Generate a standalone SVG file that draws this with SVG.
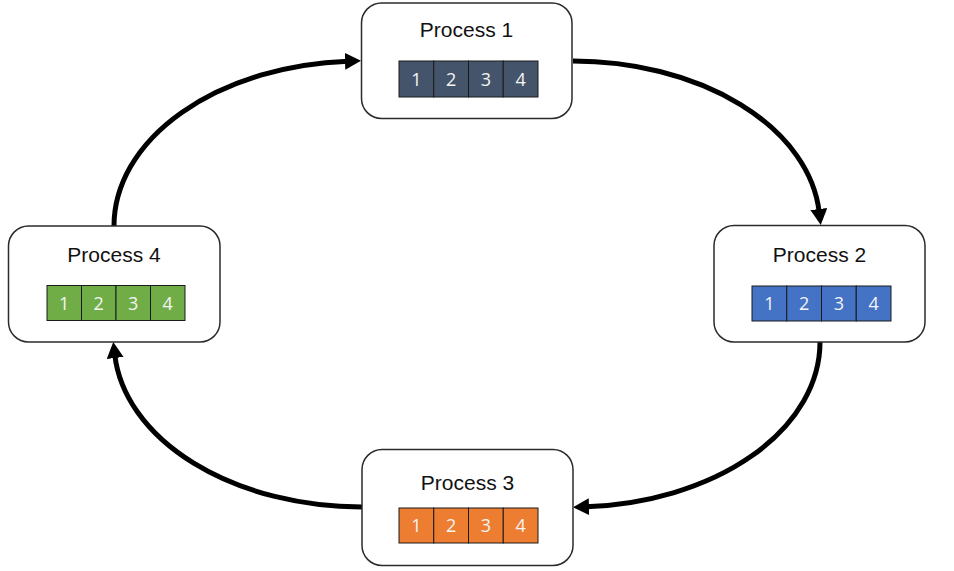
<svg xmlns="http://www.w3.org/2000/svg" width="954" height="571" viewBox="0 0 954 571">
<style>
.box{fill:#fff;stroke:#2b2b2b;stroke-width:1.5}
.title{font-family:"Liberation Sans",Arial,sans-serif;font-size:21px;fill:#111;text-anchor:middle}
.cell{stroke:#1a1a1a;stroke-width:1}
.num{font-family:"Open Sans","Liberation Sans",sans-serif;font-size:18px;fill:#f4f4f4;text-anchor:middle}
.c1{fill:#44546A}.c2{fill:#4472C4}.c3{fill:#ED7D31}.c4{fill:#70AD47}
.conn{fill:none;stroke:#000;stroke-width:5;marker-end:url(#ah)}
</style>
<defs>
<marker id="ah" markerUnits="userSpaceOnUse" markerWidth="16" markerHeight="17" refX="3" refY="8.5" orient="auto">
<path d="M0,0 L16,8.5 L0,17 z" fill="#000"/>
</marker>
</defs>
<rect width="954" height="571" fill="#fff"/>
<g id="connectors">
<path class="conn" d="M114,226 A247,165 0 0 1 348,61.2"/>
<path class="conn" d="M573,61 A247,164 0 0 1 819.2,212"/>
<path class="conn" d="M820,342 A247,165 0 0 1 586,506.8"/>
<path class="conn" d="M362,507 A248,165 0 0 1 114.8,355"/>
</g>
<g id="process1">
<rect class="box" x="361.5" y="3" width="210.5" height="115.5" rx="20"/>
<text class="title" x="466.5" y="37">Process 1</text>
<rect class="cell c1" x="399" y="61" width="34.75" height="36"/>
<rect class="cell c1" x="433.75" y="61" width="34.75" height="36"/>
<rect class="cell c1" x="468.5" y="61" width="34.75" height="36"/>
<rect class="cell c1" x="503.25" y="61" width="34.75" height="36"/>
<text class="num" x="416.4" y="86">1</text>
<text class="num" x="451.1" y="86">2</text>
<text class="num" x="485.9" y="86">3</text>
<text class="num" x="520.6" y="86">4</text>
</g>
<g id="process2">
<rect class="box" x="714" y="225.5" width="211" height="116.5" rx="20"/>
<text class="title" x="819.5" y="262">Process 2</text>
<rect class="cell c2" x="752" y="286" width="34.75" height="35"/>
<rect class="cell c2" x="786.75" y="286" width="34.75" height="35"/>
<rect class="cell c2" x="821.5" y="286" width="34.75" height="35"/>
<rect class="cell c2" x="856.25" y="286" width="34.75" height="35"/>
<text class="num" x="769.4" y="310">1</text>
<text class="num" x="804.1" y="310">2</text>
<text class="num" x="838.9" y="310">3</text>
<text class="num" x="873.6" y="310">4</text>
</g>
<g id="process3">
<rect class="box" x="362" y="449.5" width="211" height="116" rx="20"/>
<text class="title" x="467.5" y="490">Process 3</text>
<rect class="cell c3" x="399" y="508" width="34.75" height="35"/>
<rect class="cell c3" x="433.75" y="508" width="34.75" height="35"/>
<rect class="cell c3" x="468.5" y="508" width="34.75" height="35"/>
<rect class="cell c3" x="503.25" y="508" width="34.75" height="35"/>
<text class="num" x="416.4" y="532">1</text>
<text class="num" x="451.1" y="532">2</text>
<text class="num" x="485.9" y="532">3</text>
<text class="num" x="520.6" y="532">4</text>
</g>
<g id="process4">
<rect class="box" x="8.5" y="226" width="211.5" height="116" rx="20"/>
<text class="title" x="114" y="262">Process 4</text>
<rect class="cell c4" x="47" y="285.5" width="34.5" height="35"/>
<rect class="cell c4" x="81.5" y="285.5" width="34.5" height="35"/>
<rect class="cell c4" x="116" y="285.5" width="34.5" height="35"/>
<rect class="cell c4" x="150.5" y="285.5" width="34.5" height="35"/>
<text class="num" x="64.2" y="309.5">1</text>
<text class="num" x="98.7" y="309.5">2</text>
<text class="num" x="133.2" y="309.5">3</text>
<text class="num" x="167.7" y="309.5">4</text>
</g>
</svg>
